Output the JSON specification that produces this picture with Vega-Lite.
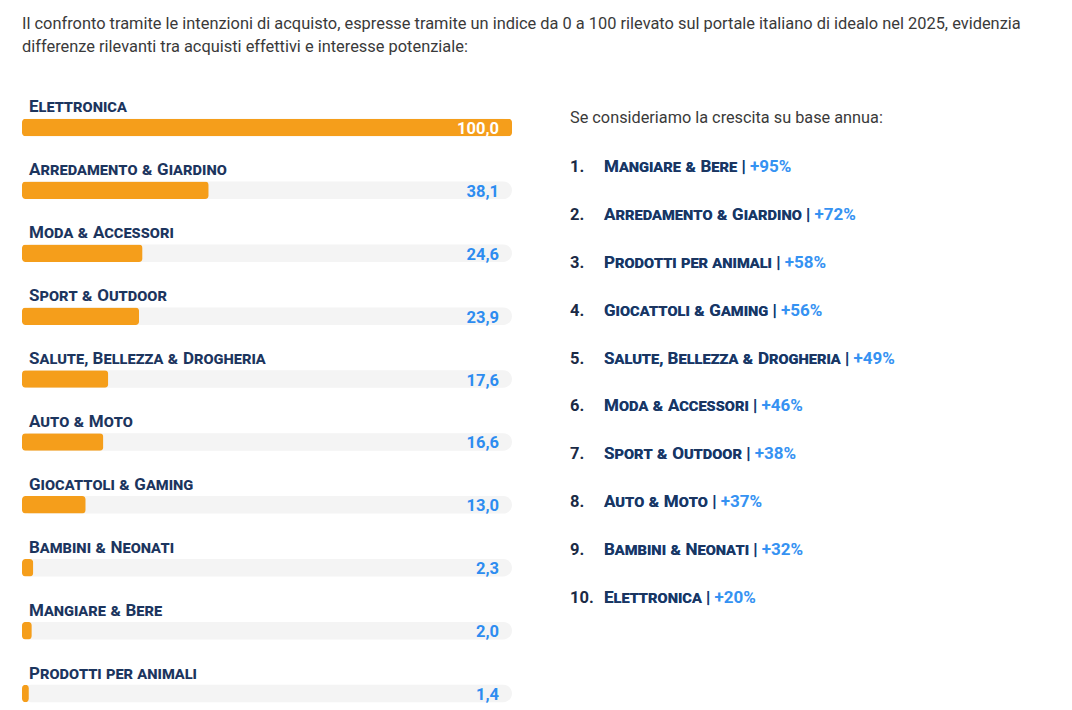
{
  "$schema": "https://vega.github.io/schema/vega-lite/v6.json",
  "background": "white",
  "padding": {"left": 22, "top": 15, "right": 5, "bottom": 0},
  "title": {
    "text": ["Il confronto tramite le intenzioni di acquisto, espresse tramite un indice da 0 a 100 rilevato sul portale italiano di idealo nel 2025, evidenzia", "differenze rilevanti tra acquisti effettivi e interesse potenziale:"],
    "anchor": "start",
    "frame": "group",
    "font": "Roboto",
    "fontSize": 16.4,
    "fontWeight": "normal",
    "color": "#3a3a3a",
    "lineHeight": 23,
    "offset": 24
  },
  "config": {
    "view": {"stroke": null},
    "locale": {"number": {"decimal": ",", "thousands": ".", "grouping": [3], "currency": ["", " €"]}},
    "style": {"sc": {"fontVariant": "small-caps"}}
  },
  "datasets": {
    "index": [
      {"cat": "Elettronica", "value": 100.0},
      {"cat": "Arredamento & Giardino", "value": 38.1},
      {"cat": "Moda & Accessori", "value": 24.6},
      {"cat": "Sport & Outdoor", "value": 23.9},
      {"cat": "Salute, Bellezza & Drogheria", "value": 17.6},
      {"cat": "Auto & Moto", "value": 16.6},
      {"cat": "Giocattoli & Gaming", "value": 13.0},
      {"cat": "Bambini & Neonati", "value": 2.3},
      {"cat": "Mangiare & Bere", "value": 2.0},
      {"cat": "Prodotti per animali", "value": 1.4}
    ],
    "growth": [
      {"pos": 1, "cat": "Mangiare & Bere", "g": "+95%"},
      {"pos": 2, "cat": "Arredamento & Giardino", "g": "+72%"},
      {"pos": 3, "cat": "Prodotti per animali", "g": "+58%"},
      {"pos": 4, "cat": "Giocattoli & Gaming", "g": "+56%"},
      {"pos": 5, "cat": "Salute, Bellezza & Drogheria", "g": "+49%"},
      {"pos": 6, "cat": "Moda & Accessori", "g": "+46%"},
      {"pos": 7, "cat": "Sport & Outdoor", "g": "+38%"},
      {"pos": 8, "cat": "Auto & Moto", "g": "+37%"},
      {"pos": 9, "cat": "Bambini & Neonati", "g": "+32%"},
      {"pos": 10, "cat": "Elettronica", "g": "+20%"}
    ],
    "header": [
      {"pos": 0, "t": "Se consideriamo la crescita su base annua:"}
    ]
  },
  "spacing": 58,
  "hconcat": [
    {
      "width": 490,
      "height": 629,
      "data": {"name": "index"},
      "encoding": {
        "y": {"field": "cat", "type": "nominal", "sort": null, "axis": null, "scale": {"paddingInner": 0, "paddingOuter": 0}}
      },
      "layer": [
        {
          "mark": {"type": "bar", "height": 17.5, "yOffset": 17, "color": "#f4f4f4", "cornerRadius": 8.75},
          "encoding": {"x": {"datum": 100, "type": "quantitative", "scale": {"domain": [0, 100]}, "axis": null}}
        },
        {
          "mark": {"type": "bar", "height": 17.5, "yOffset": 17, "color": "#f59e1b", "cornerRadius": 3.5},
          "encoding": {"x": {"field": "value", "type": "quantitative"}}
        },
        {
          "mark": {"type": "text", "align": "left", "baseline": "alphabetic", "dx": 7, "dy": 2, "font": "Roboto", "fontSize": 17, "fontWeight": "bold", "color": "#1c355e", "style": "sc"},
          "encoding": {"x": {"datum": 0, "type": "quantitative"}, "text": {"field": "cat"}}
        },
        {
          "mark": {"type": "text", "align": "right", "baseline": "alphabetic", "dx": -13, "dy": 23.5, "font": "Roboto", "fontSize": 16.5, "fontWeight": "bold"},
          "encoding": {
            "x": {"datum": 100, "type": "quantitative"},
            "text": {"field": "value", "type": "quantitative", "format": ".1f"},
            "color": {"condition": {"test": "datum.value >= 100", "value": "#ffffff"}, "value": "#2d8cf0"}
          }
        }
      ]
    },
    {
      "width": 34,
      "height": 527,
      "encoding": {
        "y": {"field": "pos", "type": "ordinal", "axis": null, "scale": {"domain": [0, 1, 2, 3, 4, 5, 6, 7, 8, 9, 10], "paddingInner": 0, "paddingOuter": 0}}
      },
      "layer": [
        {
          "data": {"name": "header"},
          "mark": {"type": "text", "align": "left", "baseline": "alphabetic", "dy": 20, "font": "Roboto", "fontSize": 16.3, "color": "#3a3a3a"},
          "encoding": {
            "x": {"datum": "n", "type": "nominal", "scale": {"type": "point", "domain": ["n", "l"], "padding": 0}, "axis": null},
            "text": {"field": "t"}
          }
        },
        {
          "data": {"name": "growth"},
          "transform": [{"calculate": "datum.pos + '.'", "as": "num"}],
          "mark": {"type": "text", "align": "left", "baseline": "alphabetic", "dy": 21, "font": "Roboto", "fontSize": 16.5, "fontWeight": "bold", "color": "#1a2a45"},
          "encoding": {"x": {"datum": "n", "type": "nominal"}, "text": {"field": "num"}}
        },
        {
          "data": {"name": "growth"},
          "transform": [{"calculate": "datum.cat + ' | ' + datum.g", "as": "full"}],
          "mark": {"type": "text", "align": "left", "baseline": "alphabetic", "dy": 21, "font": "Roboto", "fontSize": 17, "fontWeight": "bold", "color": "#3592f2", "style": "sc"},
          "encoding": {"x": {"datum": "l", "type": "nominal"}, "text": {"field": "full"}}
        },
        {
          "data": {"name": "growth"},
          "transform": [{"calculate": "datum.cat + ' |'", "as": "pre"}],
          "mark": {"type": "text", "align": "left", "baseline": "alphabetic", "dy": 21, "font": "Roboto", "fontSize": 17, "fontWeight": "bold", "color": "#1c355e", "style": "sc"},
          "encoding": {"x": {"datum": "l", "type": "nominal"}, "text": {"field": "pre"}}
        }
      ]
    }
  ]
}
